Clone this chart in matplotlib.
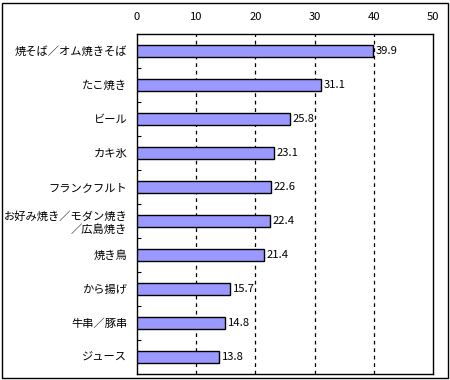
import matplotlib.pyplot as plt
from matplotlib.patches import Rectangle

plt.rcParams["font.family"] = ["Noto Sans CJK JP", "DejaVu Sans"]

categories = [
    "焼そば／オム焼きそば",
    "たこ焼き",
    "ビール",
    "カキ氷",
    "フランクフルト",
    "お好み焼き／モダン焼き\n／広島焼き",
    "焼き鳥",
    "から揚げ",
    "牛串／豚串",
    "ジュース",
]
values = [39.9, 31.1, 25.8, 23.1, 22.6, 22.4, 21.4, 15.7, 14.8, 13.8]
x_ticks = [0, 10, 20, 30, 40, 50]

fs = 8.1

fig = plt.figure(figsize=(4.5, 3.8), dpi=100)
ax = fig.add_axes([137 / 450, 6 / 380, 296 / 450, 340 / 380])

# outer frame around the whole picture
fig.patches.append(
    Rectangle((1.5 / 450, 2.5 / 380), 446 / 450, 375 / 380,
              transform=fig.transFigure, fill=False, edgecolor="black", linewidth=1)
)

ypos = list(range(len(categories)))
ax.barh(ypos, values, height=0.38, color="#9999FF", edgecolor="black", linewidth=1, zorder=3)

for y, v in zip(ypos, values):
    ax.text(v + 0.5, y, f"{v:.1f}", va="center", ha="left", fontsize=fs, zorder=4)

ax.set_xlim(0, 50)
ax.set_ylim(len(categories) - 0.5, -0.5)
ax.set_xticks(x_ticks)
ax.xaxis.tick_top()
ax.tick_params(axis="x", length=0, pad=9, labelsize=fs)
ax.set_yticks(ypos)
ax.set_yticklabels(categories, fontsize=fs, linespacing=1.2)
ax.tick_params(axis="y", length=0, pad=7)

# small minor ticks at category boundaries on the left spine
ax.set_yticks([y + 0.5 for y in ypos[:-1]], minor=True)
ax.tick_params(axis="y", which="minor", direction="in", length=3, width=0.8)

for gx in x_ticks[1:-1]:
    ax.axvline(gx, color="black", linestyle=(0, (3, 3)), linewidth=0.9, zorder=1)

for s in ax.spines.values():
    s.set_linewidth(1)

plt.savefig("out.png", dpi=100)
